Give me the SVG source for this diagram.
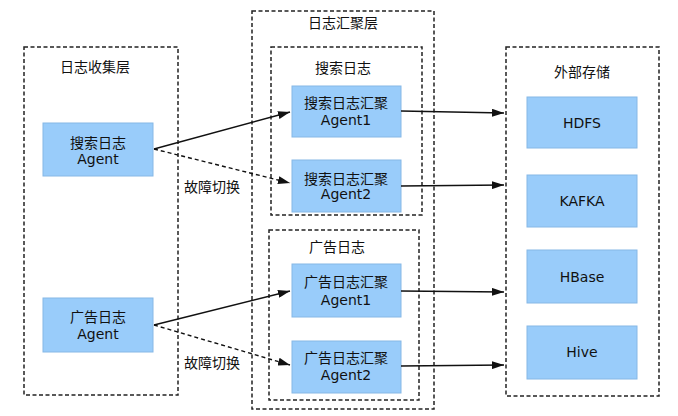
<svg xmlns="http://www.w3.org/2000/svg" width="678" height="416" viewBox="0 0 678 416">
<style>
.grp{fill:none;stroke:#222;stroke-width:1.5;stroke-dasharray:4 2.5}
.box{fill:#99ccfa;stroke:#86b8e6;stroke-width:1}
text{font-family:"DejaVu Sans","Noto Sans CJK SC",sans-serif;font-size:14px;fill:#111;text-anchor:middle}
.c{fill:none;stroke:#111;stroke-width:1.4}
.d{stroke-dasharray:4 3}
</style>
<defs>
<marker id="ah" viewBox="0 0 12 8" refX="12" refY="4" markerWidth="12" markerHeight="8" markerUnits="userSpaceOnUse" orient="auto">
<path d="M0,0 L12,4 L0,8 z" fill="#111"/>
</marker>
</defs>
<rect width="678" height="416" fill="#fff"/>
<g id="collect-layer">
<rect class="grp" x="24" y="47" width="154" height="348"/>
<text x="95" y="72">日志收集层</text>
</g>
<g id="agg-layer">
<rect class="grp" x="252" y="11" width="182" height="398"/>
<text x="343" y="28">日志汇聚层</text>
</g>
<g id="search-group">
<rect class="grp" x="271" y="47" width="151" height="168"/>
<text x="343" y="73">搜索日志</text>
</g>
<g id="ad-group">
<rect class="grp" x="269" y="230" width="150" height="170"/>
<text x="337" y="252">广告日志</text>
</g>
<g id="storage-layer">
<rect class="grp" x="506" y="47" width="153" height="349"/>
<text x="582" y="77">外部存储</text>
</g>
<g id="search-agent">
<rect class="box" x="43" y="123" width="110" height="53"/>
<text x="98" y="148">搜索日志</text>
<text x="98" y="164">Agent</text>
</g>
<g id="ad-agent">
<rect class="box" x="43" y="298" width="110" height="54"/>
<text x="98" y="322">广告日志</text>
<text x="98" y="339">Agent</text>
</g>
<g id="search-agg1">
<rect class="box" x="292" y="86" width="109" height="51"/>
<text x="346" y="108">搜索日志汇聚</text>
<text x="346" y="125">Agent1</text>
</g>
<g id="search-agg2">
<rect class="box" x="292" y="160" width="109" height="52"/>
<text x="346" y="184">搜索日志汇聚</text>
<text x="346" y="199">Agent2</text>
</g>
<g id="ad-agg1">
<rect class="box" x="292" y="264" width="109" height="53"/>
<text x="346" y="287">广告日志汇聚</text>
<text x="346" y="305">Agent1</text>
</g>
<g id="ad-agg2">
<rect class="box" x="292" y="341" width="109" height="52"/>
<text x="346" y="363">广告日志汇聚</text>
<text x="346" y="380">Agent2</text>
</g>
<g id="hdfs">
<rect class="box" x="527" y="97" width="110" height="51"/>
<text x="582" y="128">HDFS</text>
</g>
<g id="kafka">
<rect class="box" x="527" y="175" width="110" height="52"/>
<text x="582" y="206">KAFKA</text>
</g>
<g id="hbase">
<rect class="box" x="527" y="250" width="110" height="53"/>
<text x="582" y="282">HBase</text>
</g>
<g id="hive">
<rect class="box" x="527" y="326" width="110" height="53"/>
<text x="582" y="357">Hive</text>
</g>
<g id="connectors">
<path class="c" d="M154,149 L290,112" marker-end="url(#ah)"/>
<path class="c d" d="M154,149 L290,183" marker-end="url(#ah)"/>
<path class="c" d="M154,325 L290,291" marker-end="url(#ah)"/>
<path class="c d" d="M154,325 L290,365" marker-end="url(#ah)"/>
<path class="c" d="M401,111 L504,113" marker-end="url(#ah)"/>
<path class="c" d="M401,186 L504,185" marker-end="url(#ah)"/>
<path class="c" d="M401,291 L504,292" marker-end="url(#ah)"/>
<path class="c" d="M401,366 L504,365" marker-end="url(#ah)"/>
<text x="212" y="192">故障切换</text>
<text x="212" y="368">故障切换</text>
</g>
</svg>
